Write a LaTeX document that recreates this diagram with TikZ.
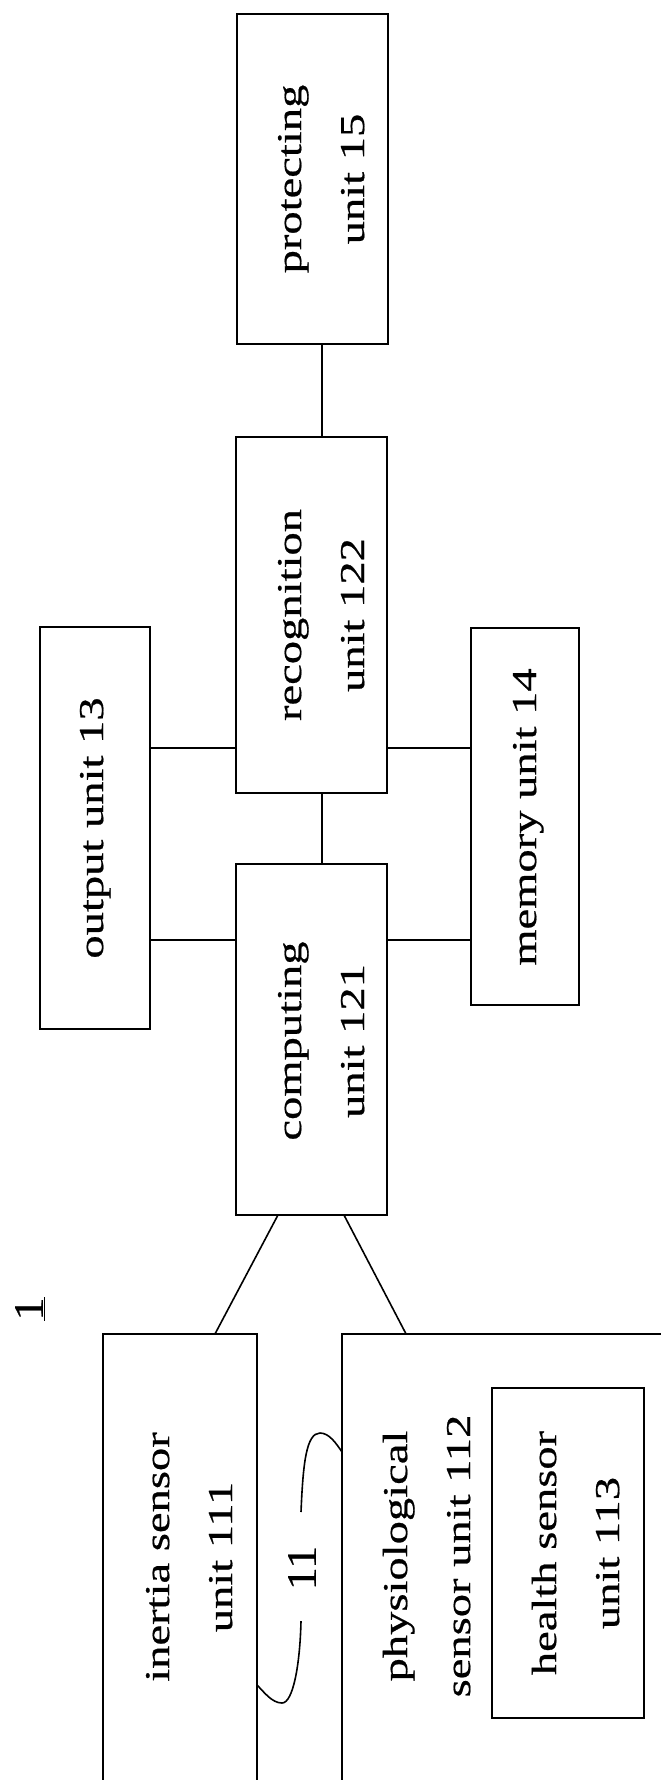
\documentclass[tikz,border=0pt]{standalone}
\usepackage{fontspec}
\setmainfont{Liberation Serif}
\newfontfamily\dfont{Liberation Serif}[FakeBold=0.5]
\usetikzlibrary{calc}
\newcommand{\vtext}[1]{\rotatebox{90}{\scalebox{1.33}[1]{\begin{tabular}{@{}c@{}}#1\end{tabular}}}}
\begin{document}
\begin{tikzpicture}[x=1pt,y=-1pt,
  blk/.style={draw, line width=2pt, inner sep=0pt, outer sep=0pt},
  txt/.style={inner sep=0pt, font=\dfont\fontsize{35}{63}\selectfont},
  lbl/.style={inner sep=0pt, font=\dfont\fontsize{42}{50}\selectfont},
  wire/.style={line width=1.6pt}]
\useasboundingbox (0,0) rectangle (661,1780);
\clip (0,0) rectangle (661,1780);

% boxes
\node[blk, minimum width=151pt, minimum height=330pt] (prot)  at (312.5,179) {};
\node[blk, minimum width=151pt, minimum height=356pt] (recog) at (311.5,615) {};
\node[blk, minimum width=151pt, minimum height=351pt] (comp)  at (311.5,1039.5) {};
\node[blk, minimum width=110pt, minimum height=402pt] (out)   at (95,828) {};
\node[blk, minimum width=108pt, minimum height=377pt] (mem)   at (525,816.5) {};
\node[blk, minimum width=154pt, minimum height=506pt] (inert) at (180,1587) {};
\node[blk, minimum width=358pt, minimum height=506pt] (phys)  at (521,1587) {};
\node[blk, minimum width=152pt, minimum height=330pt] (health) at (568,1553) {};

% texts
\node[txt] (protT)  at (320,179)   {\vtext{protecting\\unit 15}};
\node[txt] (recogT) at (320,615)   {\vtext{recognition\\unit 122}};
\node[txt] (compT)  at (320,1041)  {\vtext{computing\\unit 121}};
\node[txt] (outT)   at (90.5,828)  {\vtext{output unit 13}};
\node[txt] (memT)   at (523.5,817) {\vtext{memory unit 14}};
\node[txt] (inertT) at (188,1557)  {\vtext{inertia sensor\\unit 111}};
\node[txt] (physT)  at (426,1556)  {\vtext{physiological\\sensor unit 112}};
\node[txt] (healthT) at (575,1553) {\vtext{health sensor\\unit 113}};
\node[lbl] (lab11) at (302,1568) {\rotatebox{90}{\scalebox{1.1}[1]{11}}};
\node[lbl] (lab1)  at (30,1309)  {\rotatebox{90}{\scalebox{1.1}[1]{\underline{1}}}};

% helper coordinates
\coordinate (h1) at (0,748);
\coordinate (h2) at (0,940);
\coordinate (v1) at (322,0);
\coordinate (k1) at (0,1452);
\coordinate (k2) at (0,1685);
\coordinate (c1) at (301,1512);
\coordinate (c2) at (301,1621);

% connectors
\draw[wire] (prot.south -| v1) -- (recog.north -| v1);
\draw[wire] (recog.south -| v1) -- (comp.north -| v1);
\draw[wire] (out.east |- h1) -- (recog.west |- h1);
\draw[wire] (recog.east |- h1) -- (mem.west |- h1);
\draw[wire] (out.east |- h2) -- (comp.west |- h2);
\draw[wire] (comp.east |- h2) -- (mem.west |- h2);
\draw[wire] ($(comp.south west)!0.278!(comp.south east)$) -- ($(inert.north west)!0.727!(inert.north east)$);
\draw[wire] ($(comp.south west)!0.715!(comp.south east)$) -- ($(phys.north west)!0.179!(phys.north east)$);

% leader curves of label 11
\draw[wire] (c1) .. controls (303,1465) and (306,1433) .. (320,1433)
                 .. controls (329,1433) and (336,1443) .. (phys.west |- k1);
\draw[wire] (c2) .. controls (300,1665) and (293,1703) .. (282,1703)
                 .. controls (272,1703) and (264,1692) .. (inert.east |- k2);
\end{tikzpicture}
\end{document}
